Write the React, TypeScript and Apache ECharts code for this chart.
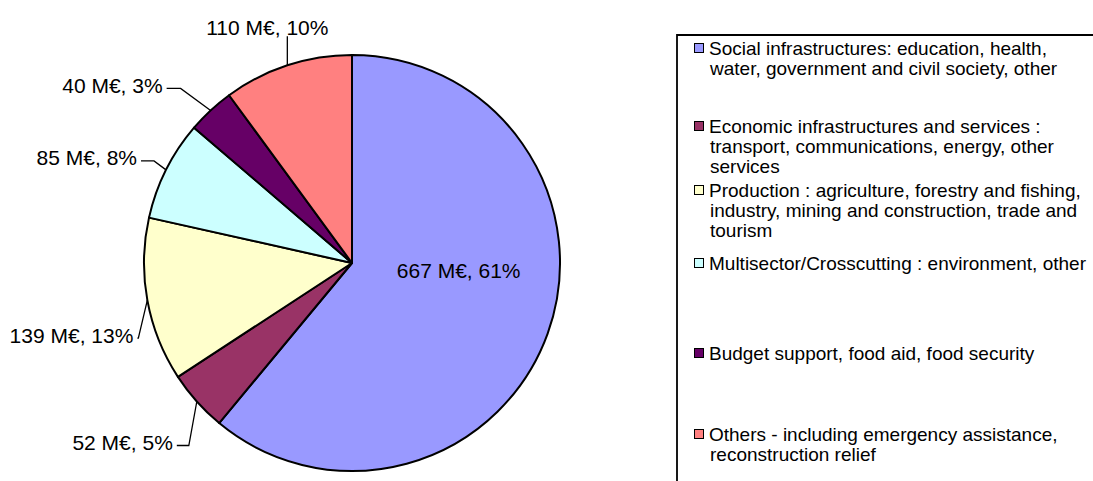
import React, { useEffect, useRef } from "react";
import * as echarts from "echarts";

// ---- data ----
const CATEGORIES = [
  "Social infrastructures: education, health, water, government and civil society, other",
  "Economic infrastructures and services : transport, communications, energy, other services",
  "Production : agriculture, forestry and fishing, industry, mining and construction, trade and tourism",
  "Multisector/Crosscutting : environment, other",
  "Budget support, food aid, food security",
  "Others - including emergency assistance, reconstruction relief",
];
const VALUES_MEUR = [667, 52, 139, 85, 40, 110];
const LEGEND_LINES = [
  ["Social infrastructures: education, health,", "water, government and civil society, other"],
  ["Economic infrastructures and services :", "transport, communications, energy, other", "services"],
  ["Production : agriculture, forestry and fishing,", "industry, mining and construction, trade and", "tourism"],
  ["Multisector/Crosscutting : environment, other"],
  ["Budget support, food aid, food security"],
  ["Others - including emergency assistance,", "reconstruction relief"],
];
const SLICE_COLORS = ["#9999FF", "#993366", "#FFFFCC", "#CCFFFF", "#660066", "#FF8080"];

// ---- layout (not data) ----
const FONT = "'Liberation Sans', Arial, Helvetica, sans-serif";
const LEGEND_LINE_H = 20;
const LEGEND_ROW_CENTER = [48, 126, 190, 263, 353, 434];
// offsets of each label from the slice's mid-angle point on the rim
const LABEL_PLACEMENT: any[] = [
  { kind: "inside", dx: 6, dy: -29 },
  { kind: "left", dx: -24, dy: 41, h: 12 },
  { kind: "left", dx: -14, dy: 35, h: 1 },
  { kind: "left", dx: -29, dy: -12, h: 13 },
  { kind: "left", dx: -48, dy: -25, h: 14 },
  { kind: "top", dx: -20, dy: -38, lineTop: -29 },
];

export default function App() {
  const ref = useRef<HTMLDivElement>(null);
  useEffect(() => {
    if (!ref.current) return;
    const chart = echarts.init(ref.current, undefined, { renderer: "svg" });

    const legends = CATEGORIES.map((name, i) => {
      const lines = LEGEND_LINES[i];
      return {
        data: [name],
        orient: "vertical",
        left: 688,
        top: LEGEND_ROW_CENTER[i] - LEGEND_LINE_H / 2,
        padding: 0,
        itemWidth: 1,
        itemHeight: 1,
        icon: "rect",
        itemStyle: { opacity: 0 },
        formatter: () =>
          lines.map((l, k) => (k === 0 ? "{box|}{gap|}" : "{ind|}") + l).join("\n"),
        textStyle: {
          fontFamily: FONT,
          fontSize: 19,
          lineHeight: LEGEND_LINE_H,
          color: "#000",
          rich: {
            box: {
              width: 8,
              height: 8,
              backgroundColor: SLICE_COLORS[i],
              borderColor: "#000",
              borderWidth: 1,
            },
            gap: { width: 6 },
            ind: { width: 15 },
          },
        },
      };
    });

    const data = CATEGORIES.map((name, i) => ({
      name,
      value: VALUES_MEUR[i],
      itemStyle: { color: SLICE_COLORS[i] },
      label: LABEL_PLACEMENT[i].kind === "inside" ? { position: "inside" } : { position: "outside" },
      labelLine: { show: LABEL_PLACEMENT[i].kind !== "inside" },
    }));

    chart.setOption({
      animation: false,
      backgroundColor: "#fff",
      legend: legends,
      graphic: [
        {
          type: "rect",
          x: 677,
          y: 35,
          shape: { x: 0, y: 0, width: 460, height: 470 },
          style: { fill: "none", stroke: "#000", lineWidth: 1.8 },
          silent: true,
        },
      ],
      series: [
        {
          type: "pie",
          center: [352, 263],
          radius: [0, 208],
          startAngle: 90,
          clockwise: true,
          avoidLabelOverlap: false,
          percentPrecision: 0,
          itemStyle: { borderColor: "#000", borderWidth: 2 },
          emphasis: { disabled: true },
          label: {
            formatter: "{c} M€, {d}%",
            fontFamily: FONT,
            fontSize: 21,
            color: "#000",
          },
          labelLine: {
            show: true,
            length: 12,
            length2: 12,
            lineStyle: { color: "#000", width: 1.3 },
          },
          labelLayout: (p: any) => {
            const spec = LABEL_PLACEMENT[p.dataIndex];
            if (spec.kind === "inside") return { dx: spec.dx, dy: spec.dy };
            const pts = p.labelLinePoints;
            if (!pts) return {};
            const ax = pts[0][0];
            const ay = pts[0][1];
            if (spec.kind === "top") {
              const ly = ay + spec.lineTop;
              return {
                x: ax + spec.dx,
                y: ay + spec.dy,
                align: "center",
                verticalAlign: "middle",
                labelLinePoints: [
                  [ax, ay],
                  [ax, ly],
                  [ax, ly],
                ],
              };
            }
            const tx = ax + spec.dx;
            const ty = ay + spec.dy;
            const ex = tx + 4;
            const ey = ty + 3;
            return {
              x: tx,
              y: ty,
              align: "right",
              verticalAlign: "middle",
              labelLinePoints: [
                [ax, ay],
                [ex + spec.h, ey],
                [ex, ey],
              ],
            };
          },
          data,
        },
      ],
    });
    return () => chart.dispose();
  }, []);

  return (
    <div
      ref={ref}
      style={{ position: "absolute", left: 0, top: 0, width: 1093, height: 481, background: "#fff" }}
    />
  );
}
